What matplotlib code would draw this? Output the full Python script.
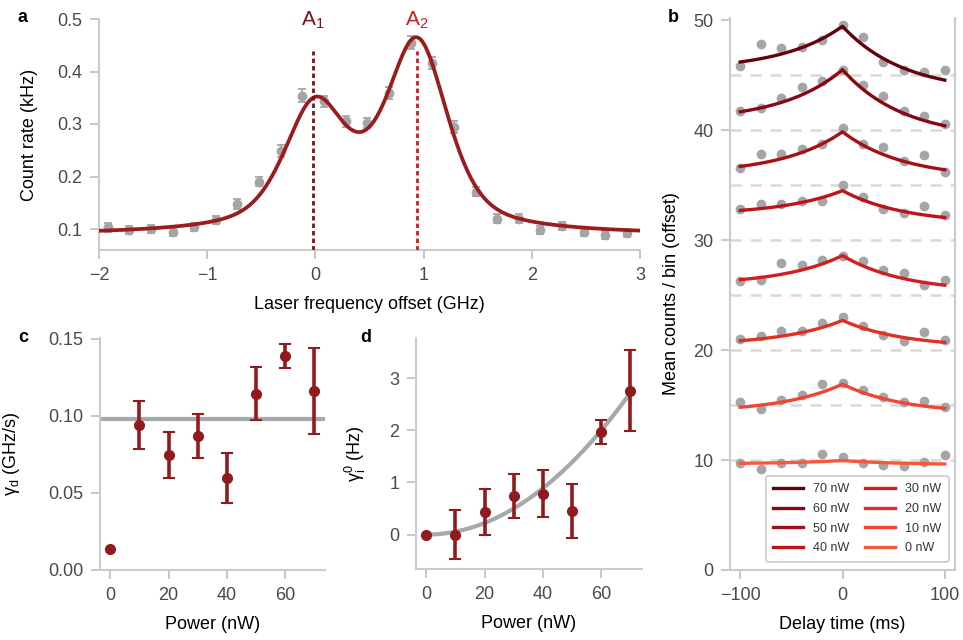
import numpy as np
import matplotlib.pyplot as plt

plt.rcParams['font.family'] = ['Liberation Sans', 'DejaVu Sans']
plt.rcParams['mathtext.fontset'] = 'custom'
plt.rcParams['mathtext.rm'] = 'Liberation Sans'
plt.rcParams['mathtext.it'] = 'Liberation Sans:italic'

# ---- panel a: count rate vs laser frequency offset
freq = [-1.92, -1.72, -1.52, -1.32, -1.12, -0.92, -0.72, -0.52, -0.32, -0.12,
        0.08, 0.28, 0.48, 0.68, 0.88, 1.08, 1.28, 1.48, 1.68, 1.88,
        2.08, 2.28, 2.48, 2.68, 2.88]
count = [0.103, 0.098, 0.100, 0.094, 0.104, 0.117, 0.148, 0.190, 0.249, 0.354,
         0.343, 0.305, 0.302, 0.359, 0.455, 0.416, 0.294, 0.171, 0.120, 0.120,
         0.098, 0.106, 0.095, 0.089, 0.092]
count_err = [0.008, 0.007, 0.007, 0.008, 0.008, 0.008, 0.009, 0.009, 0.011, 0.012,
             0.011, 0.010, 0.010, 0.012, 0.013, 0.012, 0.011, 0.009, 0.008, 0.008,
             0.008, 0.008, 0.008, 0.008, 0.008]
A1_pos = -0.02
A2_pos = 0.94
# fit parameters (two pseudo-Voigt lines + broad background)
fit_base = 0.088
fit_amp = [0.211, 0.331]
fit_center = [-0.01, 0.945]
fit_hw = 0.33
fit_eta = 0.5
broad_amp, broad_center, broad_hw = 0.05, 0.47, 0.7

# ---- panel b: correlation traces
delay = [-100, -80, -60, -40, -20, 0, 20, 40, 60, 80, 100]
power_labels = ['70 nW', '60 nW', '50 nW', '40 nW', '30 nW', '20 nW', '10 nW', '0 nW']
offsets = [45, 40, 35, 30, 25, 20, 15, 10]
counts_70 = [45.85, 47.8, 47.5, 47.6, 48.2, 49.6, 48.5, 46.2, 45.45, 45.3, 45.45]
counts_60 = [41.75, 42.06, 42.9, 43.9, 44.45, 45.5, 44.15, 43.1, 41.7, 41.3, 40.6]
counts_50 = [36.6, 37.8, 37.8, 38.3, 38.7, 40.2, 38.7, 38.5, 37.2, 37.7, 36.2]
counts_40 = [32.8, 33.3, 33.3, 33.6, 33.6, 35.0, 33.9, 32.8, 32.5, 33.1, 32.3]
counts_30 = [26.3, 26.4, 27.9, 27.7, 28.2, 28.6, 28.1, 27.3, 27.0, 25.9, 26.4]
counts_20 = [20.97, 21.3, 21.7, 21.7, 22.5, 23.0, 22.2, 21.4, 20.8, 21.6, 20.9]
counts_10 = [15.3, 14.6, 15.5, 15.9, 16.9, 17.0, 16.4, 15.7, 15.3, 15.4, 14.8]
counts_0 = [9.7, 9.15, 9.75, 9.75, 10.55, 10.25, 9.7, 9.55, 9.5, 9.85, 10.45]
all_counts = [counts_70, counts_60, counts_50, counts_40,
              counts_30, counts_20, counts_10, counts_0]
fit_peak = [49.45, 45.5, 39.85, 34.5, 28.6, 22.7, 16.9, 9.95]
fit_left = [46.2, 41.67, 36.7, 32.7, 26.4, 20.85, 14.8, 9.7]
fit_right = [44.55, 40.4, 36.4, 32.06, 25.9, 20.7, 14.7, 9.64]
fit_tau = 60.0
cmap_pos = [1.0, 0.93, 0.87, 0.8, 0.73, 0.67, 0.6, 0.55]

# ---- panels c, d
power = [0, 10, 20, 30, 40, 50, 60, 70]
gamma_d = [0.0134, 0.0942, 0.0749, 0.087, 0.0597, 0.1145, 0.139, 0.116]
gamma_d_err = [0, 0.0155, 0.015, 0.0144, 0.016, 0.0174, 0.0077, 0.028]
gamma_d_mean = 0.098
gamma_i = [0.0, 0.0, 0.43, 0.735, 0.785, 0.447, 1.967, 2.76]
gamma_i_err = [0, 0.465, 0.435, 0.42, 0.448, 0.52, 0.225, 0.78]
gamma_i_coef = 5.55e-4

DARK = '#901a1e'
GRAY_PT = '#a5a5a5'
GRAY_FIT = '#a4a9a9'


def style(ax, right=False):
    ax.spines['top'].set_visible(False)
    ax.spines['right'].set_visible(right)
    for s in ['left', 'bottom', 'right']:
        ax.spines[s].set_color('#cbcbcb')
        ax.spines[s].set_linewidth(1.5)
    ax.tick_params(direction='out', length=6.5, width=1.2, color='#bdbdbd',
                   labelcolor='#4a4a4a', labelsize=13, pad=5.5)


def pvoigt(x, c, hw, eta):
    u = ((x - c) / hw) ** 2
    return eta / (1 + u) + (1 - eta) * np.exp(-np.log(2) * u)


fig = plt.figure(figsize=(9.63, 6.4), dpi=100)
W, H = 963.0, 640.0


def axes_px(x0, x1, y0, y1):
    return fig.add_axes([x0 / W, 1 - y1 / H, (x1 - x0) / W, (y1 - y0) / H])


# ---------------- a
ax = axes_px(99, 640, 19, 250)
style(ax)
xf = np.linspace(-2, 3, 600)
yf = (fit_base
      + fit_amp[0] * pvoigt(xf, fit_center[0], fit_hw, fit_eta)
      + fit_amp[1] * pvoigt(xf, fit_center[1], fit_hw, fit_eta)
      + broad_amp / (1 + ((xf - broad_center) / broad_hw) ** 2))
ax.errorbar(freq, count, yerr=count_err, fmt='o', color=GRAY_PT, ms=6,
            elinewidth=1.3, capsize=3, capthick=1.3, zorder=2)
ax.plot(xf, yf, color='#9b1b1f', lw=2.7, zorder=3)
ax.vlines(A1_pos, 0.06, 0.44, colors='#7d1216', linestyles=(0, (1.6, 1.1)), lw=2, zorder=4)
ax.vlines(A2_pos, 0.06, 0.44, colors='#c81e24', linestyles=(0, (1.6, 1.1)), lw=2, zorder=4)
ax.text(A1_pos, 0.497, r'A$_\mathregular{1}$', color='#7d1216', fontsize=15,
        ha='center', va='center', clip_on=False)
ax.text(A2_pos, 0.497, r'A$_\mathregular{2}$', color='#c81e24', fontsize=15,
        ha='center', va='center', clip_on=False)
ax.set_xlim(-2, 3)
ax.set_ylim(0.06, 0.5)
ax.set_xticks([-2, -1, 0, 1, 2, 3])
ax.set_yticks([0.1, 0.2, 0.3, 0.4, 0.5])
ax.set_xlabel('Laser frequency offset (GHz)', fontsize=13)
ax.set_ylabel('Count rate (kHz)', fontsize=13)
ax.yaxis.set_label_coords(-0.113, 0.5)
ax.xaxis.set_label_coords(0.5, -0.2)

# ---------------- b
bx = axes_px(730, 955, 18, 570)
style(bx, right=True)
tf = np.linspace(-100, 100, 401)
for i in range(len(all_counts)):
    col = plt.cm.Reds(cmap_pos[i])
    bx.axhline(offsets[i], color='#d9d9d9', lw=1.8, dashes=(4.5, 3.5), zorder=1)
    bx.plot(delay, all_counts[i], 'o', color=GRAY_PT, ms=6, zorder=2)
    e = np.exp(-100 / fit_tau)
    bl = (fit_left[i] - fit_peak[i] * e) / (1 - e)
    br = (fit_right[i] - fit_peak[i] * e) / (1 - e)
    base = np.where(tf < 0, bl, br)
    yb = base + (fit_peak[i] - base) * np.exp(-np.abs(tf) / fit_tau)
    bx.plot(tf, yb, color=col, lw=2.4, zorder=3, label=power_labels[i])
bx.set_xlim(-110, 110)
bx.set_ylim(0, 50.2)
bx.set_xticks([-100, 0, 100])
bx.set_yticks([0, 10, 20, 30, 40, 50])
bx.set_xlabel('Delay time (ms)', fontsize=13)
bx.set_ylabel('Mean counts / bin (offset)', fontsize=13)
bx.yaxis.set_label_coords(-0.222, 0.5)
bx.xaxis.set_label_coords(0.5, -0.083)
leg = bx.legend(loc='lower right', bbox_to_anchor=(0.973, 0.0145), borderaxespad=0,
                ncol=2, fontsize=9, handlelength=2.4, columnspacing=1.25,
                labelspacing=0.62, handletextpad=0.8,
                frameon=True, fancybox=True, framealpha=1, borderpad=0.6)
leg.get_frame().set_edgecolor('#cccccc')
leg.get_frame().set_linewidth(1.2)
for t in leg.get_texts():
    t.set_color('#333333')

# ---------------- c
cx = axes_px(100, 325, 338, 570)
style(cx)
cx.axhline(gamma_d_mean, color=GRAY_FIT, lw=3, zorder=1)
cx.errorbar(power[1:], gamma_d[1:], yerr=gamma_d_err[1:], fmt='o', color=DARK, ms=7,
            elinewidth=2.6, capsize=4, capthick=1.5, zorder=3)
cx.plot(power[0], gamma_d[0], 'o', color=DARK, ms=7, zorder=3)
cx.set_xlim(-3.5, 73.6)
cx.set_ylim(0, 0.1506)
cx.set_xticks([0, 20, 40, 60])
cx.set_yticks([0.0, 0.05, 0.10, 0.15])
cx.set_yticklabels(['0.00', '0.05', '0.10', '0.15'])
cx.set_xlabel('Power (nW)', fontsize=13)
cx.set_ylabel(r'γ$_\mathregular{d}$ (GHz/s)', fontsize=13)
cx.yaxis.set_label_coords(-0.347, 0.5)
cx.xaxis.set_label_coords(0.5, -0.2)

# ---------------- d
dx = axes_px(416, 642, 338, 569)
style(dx)
pf = np.linspace(0, 70, 200)
dx.plot(pf, gamma_i_coef * pf ** 2, color=GRAY_FIT, lw=3, zorder=1)
dx.errorbar(power[1:], gamma_i[1:], yerr=gamma_i_err[1:], fmt='o', color=DARK, ms=7,
            elinewidth=2.6, capsize=4, capthick=1.5, zorder=3)
dx.plot(power[0], gamma_i[0], 'o', color=DARK, ms=7, zorder=3)
dx.set_xlim(-3.5, 74)
dx.set_ylim(-0.66, 3.77)
dx.set_xticks([0, 20, 40, 60])
dx.set_yticks([0, 1, 2, 3])
dx.set_xlabel('Power (nW)', fontsize=13)
dx.set_ylabel(r'γ$_\mathregular{i}^\mathregular{0}$ (Hz)', fontsize=13)
dx.yaxis.set_label_coords(-0.212, 0.5)
dx.xaxis.set_label_coords(0.5, -0.2)

for lbl, px, py in [('a', 17, 18), ('b', 668, 18), ('c', 18, 338), ('d', 360, 338)]:
    fig.text(px / W, 1 - py / H, lbl, fontsize=13, fontweight='bold', va='center', ha='left')

fig.savefig('out.png', dpi=100)
